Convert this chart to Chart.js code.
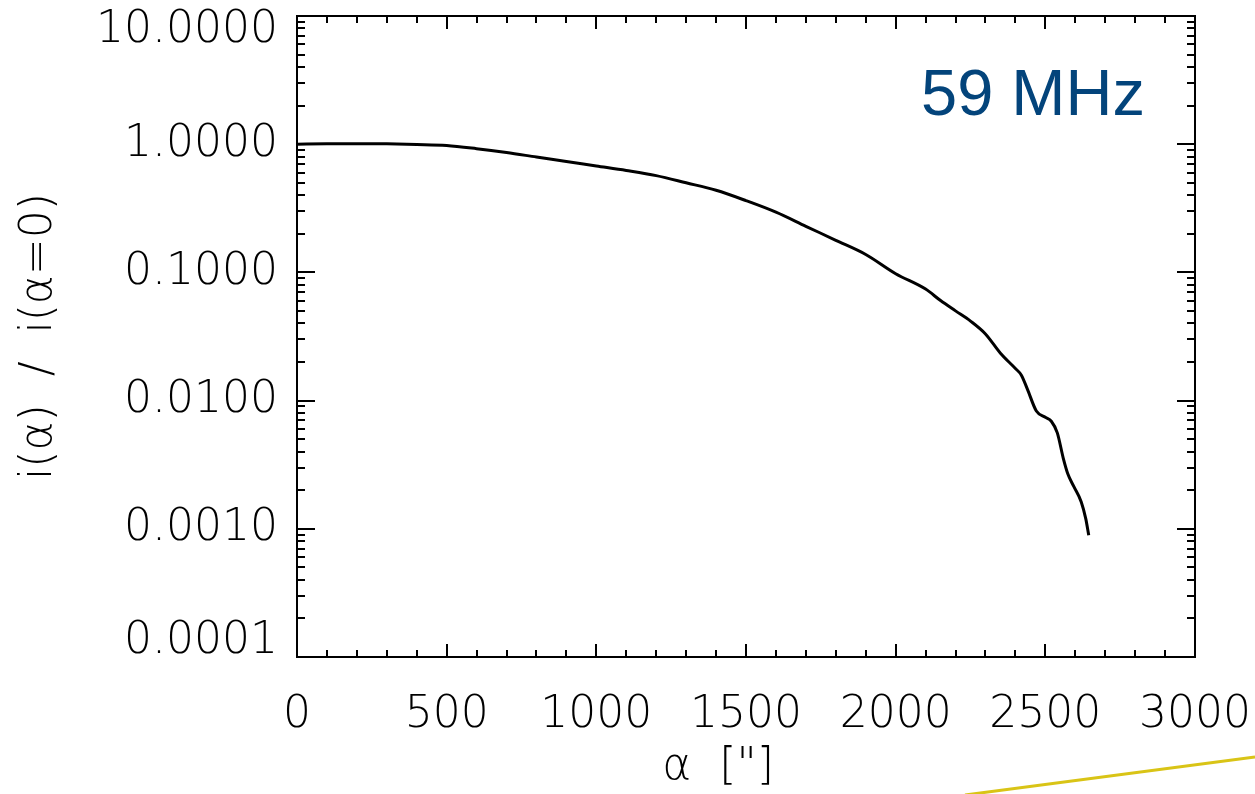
<!DOCTYPE html>
<html>
<head>
<meta charset="utf-8">
<script src="https://cdn.jsdelivr.net/npm/chart.js@4.4.1/dist/chart.umd.min.js"></script>
<style>
  html, body { margin: 0; padding: 0; background: #fff; }
  #wrap { width: 1255px; height: 794px; }
</style>
</head>
<body>
<div id="wrap"><canvas id="grafico"></canvas></div>
<script>
// dados
const alfa = [0, 100, 200, 300, 400, 500, 600, 700, 800, 900, 1000, 1100, 1200, 1300, 1400,
  1500, 1600, 1700, 1800, 1900, 2000, 2100, 2150, 2200, 2250, 2300, 2350, 2400, 2420, 2440,
  2470, 2500, 2520, 2540, 2560, 2575, 2595, 2620, 2635, 2645];
const intensidade = [1.0, 1.006, 1.01, 1.006, 0.995, 0.977, 0.923, 0.861, 0.794, 0.733, 0.676,
  0.624, 0.569, 0.50, 0.437, 0.363, 0.295, 0.229, 0.178, 0.138, 0.0977, 0.0741, 0.0603, 0.0501,
  0.0417, 0.0331, 0.0234, 0.0178, 0.0158, 0.0123, 0.0083, 0.0074, 0.0069, 0.0056, 0.00355,
  0.00269, 0.00214, 0.00162, 0.0012, 0.00089];

const xTickLabels = ['0', '500', '1000', '1500', '2000', '2500', '3000'];
const yMajorTicks = [0.0001, 0.001, 0.01, 0.1, 1, 10];
const yTickLabels = ['0.0001', '0.0010', '0.0100', '0.1000', '1.0000', '10.0000'];
const yMinorFactors = [2, 3, 4, 5, 6, 7, 8, 9];

const fonte = { family: 'DejaVu Sans', size: 44, weight: 300, lineHeight: 1.2 };

// moldura e tracinhos para dentro, estilo IDL
const molduraPlugin = {
  id: 'moldura',
  afterDraw(chart) {
    const { ctx, chartArea: a, scales: { x, y } } = chart;
    ctx.save();
    ctx.strokeStyle = '#000';
    ctx.lineWidth = 2;
    ctx.strokeRect(a.left, a.top, a.right - a.left, a.bottom - a.top);
    ctx.beginPath();
    x.ticks.forEach((t) => {
      const px = Math.round(x.getPixelForValue(t.value));
      const len = xTickLabels.includes(String(t.value)) ? 13 : 7;
      ctx.moveTo(px, a.bottom); ctx.lineTo(px, a.bottom - len);
      ctx.moveTo(px, a.top); ctx.lineTo(px, a.top + len);
    });
    y.ticks.forEach((t) => {
      const py = Math.round(y.getPixelForValue(t.value));
      const len = t.major ? 18 : 8;
      ctx.moveTo(a.left, py); ctx.lineTo(a.left + len, py);
      ctx.moveTo(a.right, py); ctx.lineTo(a.right - len, py);
    });
    ctx.stroke();

    // rótulo da frequência
    ctx.fillStyle = '#03447b';
    ctx.font = '65px "Liberation Sans", sans-serif';
    ctx.textBaseline = 'alphabetic';
    ctx.textAlign = 'left';
    ctx.fillText('59 MHz', 921, 115);

    // linha amarela do slide
    ctx.strokeStyle = '#d9c416';
    ctx.lineWidth = 3;
    ctx.beginPath();
    ctx.moveTo(965, 795);
    ctx.lineTo(1255, 757);
    ctx.stroke();
    ctx.restore();
  }
};

const ctx = document.getElementById('grafico');

new Chart(ctx, {
  type: 'line',
  data: {
    datasets: [{
      data: alfa.map((a, i) => ({ x: a, y: intensidade[i] })),
      borderColor: '#000',
      borderWidth: 3,
      pointRadius: 0,
      fill: false,
      cubicInterpolationMode: 'monotone'
    }]
  },
  options: {
    responsive: true,
    maintainAspectRatio: false,
    animation: false,
    layout: { padding: { top: 16, right: 60, left: 0, bottom: 0 } },
    plugins: {
      legend: { display: false },
      tooltip: { enabled: false }
    },
    scales: {
      x: {
        type: 'linear',
        min: 0,
        max: 3000,
        grid: { display: false, drawTicks: false },
        border: { display: false },
        ticks: {
          stepSize: 100,
          autoSkip: false,
          maxRotation: 0,
          padding: 32,
          color: '#000',
          font: fonte,
          callback: (v) => (xTickLabels.includes(String(v)) ? String(v) : '')
        },
        title: {
          display: true,
          text: 'α  ["]    ',
          color: '#000',
          font: fonte,
          padding: { top: 0, bottom: 0 }
        },
        afterFit: (s) => { s.height = 137; s.paddingLeft = 0; s.paddingRight = 0; }
      },
      y: {
        type: 'logarithmic',
        min: 0.0001,
        max: 10,
        grid: { display: false, drawTicks: false },
        border: { display: false },
        afterBuildTicks: (s) => {
          const ticks = [];
          yMajorTicks.forEach((m, i) => {
            ticks.push({ value: m, major: true });
            if (i < yMajorTicks.length - 1) {
              yMinorFactors.forEach((f) => ticks.push({ value: m * f, major: false }));
            }
          });
          s.ticks = ticks;
        },
        ticks: {
          autoSkip: false,
          padding: 19,
          color: '#000',
          // primeiro e último rótulo puxados para dentro, como na figura
          font: (c) => {
            const v = c.tick && c.tick.value;
            if (v === yMajorTicks[0] || v === yMajorTicks[yMajorTicks.length - 1]) {
              return { ...fonte, lineHeight: '30px' };
            }
            return fonte;
          },
          callback: (v) => {
            const i = yMajorTicks.indexOf(v);
            if (i < 0) return '';
            if (i === 0) return [yTickLabels[i], ''];
            if (i === yMajorTicks.length - 1) return ['', yTickLabels[i]];
            return yTickLabels[i];
          }
        },
        title: {
          display: true,
          text: 'i(α)  /  i(α=0)',
          color: '#000',
          font: fonte,
          padding: { top: 13, bottom: 0 }
        },
        afterFit: (s) => { s.width = 297; s.paddingTop = 0; s.paddingBottom = 0; }
      }
    }
  },
  plugins: [molduraPlugin]
});
</script>
</body>
</html>
